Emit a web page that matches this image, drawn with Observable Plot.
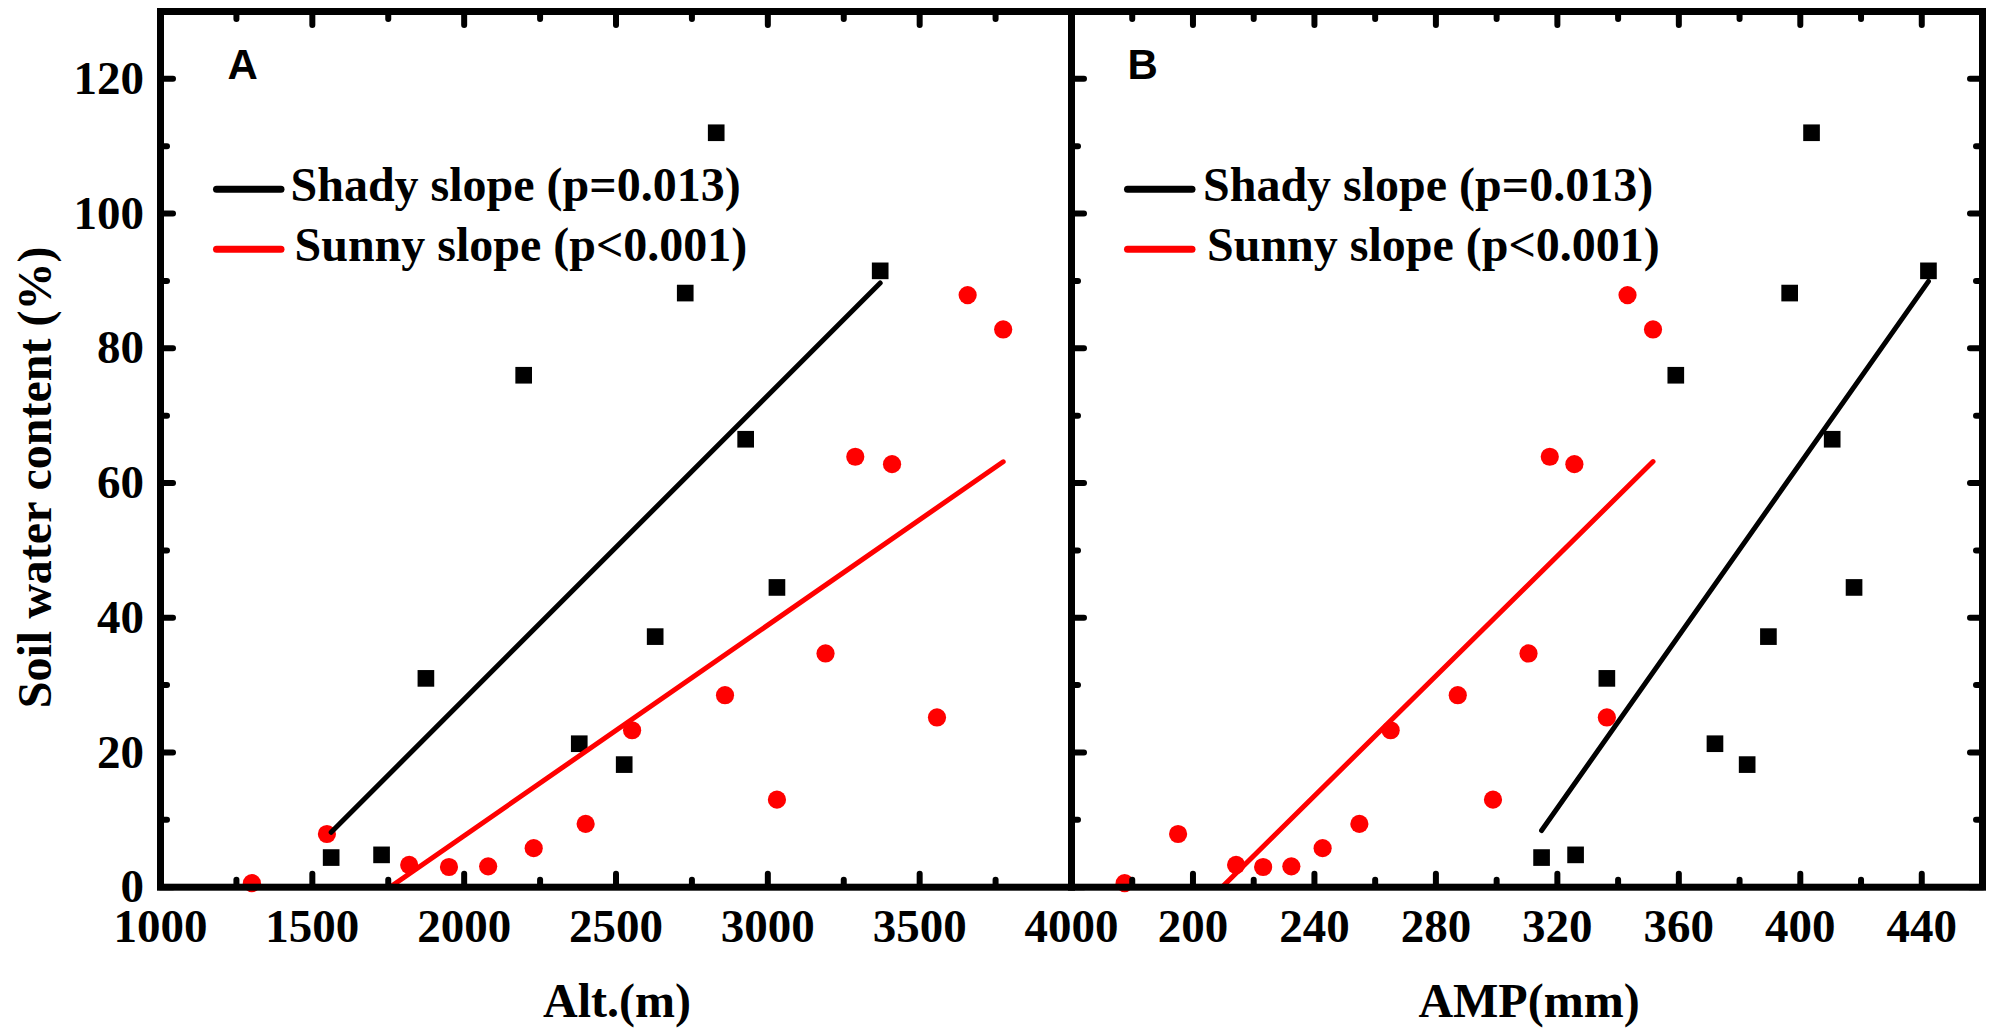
<!DOCTYPE html>
<html>
<head>
<meta charset="utf-8">
<script src="https://cdn.jsdelivr.net/npm/d3@7"></script>
<script src="https://cdn.jsdelivr.net/npm/@observablehq/plot@0.6"></script>
<style>
  html, body { margin: 0; padding: 0; background: #fff; }
  #wrap { position: relative; width: 2003px; height: 1036px; background: #fff; overflow: hidden; }
  #wrap svg { position: absolute; top: 0; }
</style>
</head>
<body>
<div id="wrap"></div>
<script>
// ---------- data ----------
// Shady slope sites
const shadyAlt = [1562, 1728, 1874, 2196, 2379, 2527, 2629, 2728, 2830, 2927, 3030, 3370];
const shadyAmp = [314.8, 326.0, 336.3, 359.0, 371.9, 382.5, 389.5, 396.5, 403.7, 410.5, 417.7, 442.2];
const shadySwc = [4.4, 4.8, 31.0, 76.0, 21.3, 18.2, 37.2, 88.2, 112.0, 66.5, 44.5, 91.5];
// Sunny slope sites
const sunnyAlt = [1301, 1548, 1819, 1950, 2079, 2229, 2400, 2553, 2859, 3030, 3190, 3288, 3409, 3557, 3658, 3775];
const sunnyAmp = [177.5, 195.1, 214.2, 223.1, 232.4, 242.7, 254.8, 265.1, 287.2, 298.8, 310.5, 317.5, 325.6, 336.3, 343.1, 351.5];
const sunnySwc = [0.6, 7.9, 3.3, 3.0, 3.1, 5.8, 9.4, 23.3, 28.5, 13.0, 34.7, 63.9, 62.8, 25.2, 87.9, 82.8];

// ticks
const altMajor = [1000, 1500, 2000, 2500, 3000, 3500, 4000];
const altLabels = ["1000", "1500", "2000", "2500", "3000", "3500", "4000"];
const altMinor = [1250, 1750, 2250, 2750, 3250, 3750];
const ampMajor = [200, 240, 280, 320, 360, 400, 440];
const ampLabels = ["200", "240", "280", "320", "360", "400", "440"];
const ampMinor = [180, 220, 260, 300, 340, 380, 420];
const swcMajor = [0, 20, 40, 60, 80, 100, 120];
const swcLabels = ["0", "20", "40", "60", "80", "100", "120"];
const swcMinor = [10, 30, 50, 70, 90, 110];

const legendItems = ["Shady slope (p=0.013)", "Sunny slope (p<0.001)"];
const yTitle = "Soil water content (%)";

const shady = shadyAlt.map((a, i) => ({alt: a, amp: shadyAmp[i], swc: shadySwc[i]}));
const sunny = sunnyAlt.map((a, i) => ({alt: a, amp: sunnyAmp[i], swc: sunnySwc[i]}));

const SERIF = "'Liberation Serif', 'Times New Roman', serif";
const SANS = "'Liberation Sans', Arial, sans-serif";
const RED = "#ff0000";

function swatch(color, offsetY) {
  return (index, scales, values, dims) => {
    return d3.create("svg:line")
      .attr("x1", dims.marginLeft + 56.5)
      .attr("x2", dims.marginLeft + 121)
      .attr("y1", dims.marginTop + offsetY)
      .attr("y2", dims.marginTop + offsetY)
      .attr("stroke", color)
      .attr("stroke-width", 7)
      .attr("stroke-linecap", "round")
      .node();
  };
}

function tickMarks(major, minor, anchor, axisFn) {
  const common = {anchor, fill: "none", stroke: "black", strokeWidth: 6, strokeLinecap: "round"};
  return [
    axisFn({...common, ticks: major, tickSize: -13}),
    axisFn({...common, ticks: minor, tickSize: -7})
  ];
}

function panel({xKey, xDomain, xMajor, xMinor, xLabels, width, marginLeft, marginRight, leftLabels, rightTicks, letter, letterDx, legendDx, titleText, titleDx}) {
  const marks = [
    Plot.dot(shady, {x: xKey, y: "swc", symbol: "square", r: 9.4, fill: "black", stroke: "none"}),
    Plot.dot(sunny, {x: xKey, y: "swc", symbol: "circle", r: 9.1, fill: RED, stroke: "none"}),
    Plot.linearRegressionY(shady, {x: xKey, y: "swc", stroke: "black", strokeWidth: 5, ci: 0, clip: true}),
    Plot.linearRegressionY(sunny, {x: xKey, y: "swc", stroke: RED, strokeWidth: 5, ci: 0, clip: true}),
    Plot.frame({stroke: "black", strokeWidth: 7}),
    ...tickMarks(xMajor, xMinor, "bottom", Plot.axisX),
    ...tickMarks(xMajor, xMinor, "top", Plot.axisX),
    ...tickMarks(swcMajor, swcMinor, "left", Plot.axisY),
    Plot.axisX({anchor: "bottom", ticks: xMajor, tickSize: 0, tickPadding: 21.5,
      tickFormat: (d, i) => xLabels[i], fontSize: 47, fontWeight: "bold", fontFamily: SERIF, fill: "black"}),
    Plot.text([letter], {frameAnchor: "top-left", dx: letterDx, dy: 67.3, lineAnchor: "bottom", textAnchor: "start",
      fontFamily: SANS, fontWeight: "bold", fontSize: 42, fill: "black"}),
    swatch("black", 178.3),
    swatch(RED, 238.3),
    Plot.text([legendItems[0]], {frameAnchor: "top-left", dx: legendDx, dy: 189, lineAnchor: "bottom", textAnchor: "start",
      fontFamily: SERIF, fontWeight: "bold", fontSize: 48, fill: "black"}),
    Plot.text([legendItems[1]], {frameAnchor: "top-left", dx: legendDx + 4, dy: 249, lineAnchor: "bottom", textAnchor: "start",
      fontFamily: SERIF, fontWeight: "bold", fontSize: 48, fill: "black"}),
    Plot.text([titleText], {frameAnchor: "bottom", dx: titleDx, dy: 130, lineAnchor: "bottom", textAnchor: "middle",
      fontFamily: SERIF, fontWeight: "bold", fontSize: 48, fill: "black"})
  ];
  if (leftLabels) {
    marks.push(Plot.axisY({anchor: "left", ticks: swcMajor, tickSize: 0, tickPadding: 16.5,
      tickFormat: (d, i) => swcLabels[i], fontSize: 47, fontWeight: "bold", fontFamily: SERIF, fill: "black"}));
    marks.push(Plot.text([yTitle], {frameAnchor: "left", rotate: -90, dx: -110, dy: 28, lineAnchor: "bottom",
      textAnchor: "middle", fontFamily: SERIF, fontWeight: "bold", fontSize: 48, fill: "black"}));
  }
  if (rightTicks) marks.push(...tickMarks(swcMajor, swcMinor, "right", Plot.axisY));
  return Plot.plot({
    width, height: 1036,
    marginLeft, marginRight, marginTop: 11, marginBottom: 149.3,
    x: {domain: xDomain, label: null},
    y: {domain: [0, 130], label: null},
    style: {background: "transparent", overflow: "visible", fontFamily: SERIF, color: "black"},
    marks
  });
}

const A = panel({xKey: "alt", xDomain: [1000, 4000], xMajor: altMajor, xMinor: altMinor, xLabels: altLabels,
  width: 1071, marginLeft: 160, marginRight: 0, leftLabels: true, rightTicks: false,
  letter: "A", letterDx: 67, legendDx: 130, titleText: "Alt.(m)", titleDx: 1});
const B = panel({xKey: "amp", xDomain: [160, 460], xMajor: ampMajor, xMinor: ampMinor, xLabels: ampLabels,
  width: 932, marginLeft: 0, marginRight: 21, leftLabels: false, rightTicks: true,
  letter: "B", letterDx: 56, legendDx: 131.5, titleText: "AMP(mm)", titleDx: 2});
A.style.left = "0px";
B.style.left = "1071px";
const wrap = document.getElementById("wrap");
wrap.appendChild(A);
wrap.appendChild(B);
</script>
</body>
</html>
